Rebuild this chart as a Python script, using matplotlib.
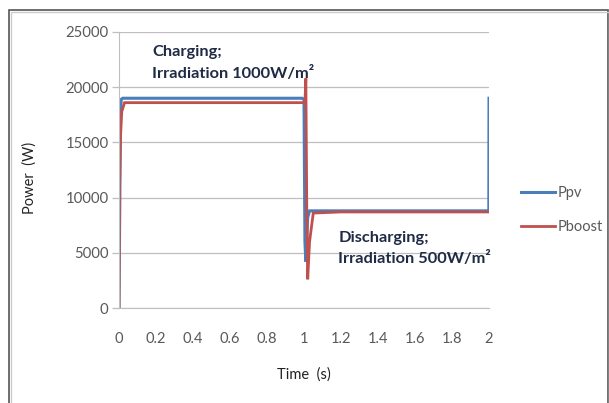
import numpy as np
import matplotlib.pyplot as plt
from matplotlib.patches import Rectangle
from matplotlib.lines import Line2D

# =========================
# Data
# =========================
t_pv = [0.0, 0.008, 0.012, 0.02, 0.5, 0.99, 1.0, 1.005, 1.01, 1.02, 1.03, 1.2, 1.6, 1.999, 2.0]
p_pv = [0, 17500, 18900, 19000, 19000, 19000, 18900, 6000, 4200, 8200, 8800, 8800, 8800, 8800, 19000]

t_boost = [0.0, 0.003, 0.008, 0.015, 0.03, 0.5, 0.995, 1.005, 1.01, 1.015, 1.02, 1.03, 1.05, 1.2, 1.6, 2.0]
p_boost = [0, 11000, 15500, 17800, 18600, 18600, 18600, 18600, 20800, 9000, 2600, 6000, 8600, 8700, 8700, 8700]

yticks = [0, 5000, 10000, 15000, 20000, 25000]
xticks = [0, 0.2, 0.4, 0.6, 0.8, 1, 1.2, 1.4, 1.6, 1.8, 2]
xtick_labels = ["0", "0.2", "0.4", "0.6", "0.8", "1", "1.2", "1.4", "1.6", "1.8", "2"]

BLUE = "#4a7ebb"
RED = "#c0504d"
TXT = "#595959"
NAVY = "#1f2a44"

plt.rcParams['font.family'] = ['Lato', 'DejaVu Sans']

fig = plt.figure(figsize=(6.09, 4.03), dpi=100)

# figure frame (bottom edge is cut off in the reference)
fig.patches.append(Rectangle((9 / 609, -0.05), 599 / 609, 1.05 - 10 / 403, transform=fig.transFigure,
                             fill=False, edgecolor="#555555", linewidth=1.2))
fig.patches.append(Rectangle((10.5 / 609, -0.05), 598 / 609, 1.05 - 12 / 403, transform=fig.transFigure,
                             fill=False, edgecolor="#cccccc", linewidth=1.0))

ax = fig.add_axes([119 / 609, 1 - 308 / 403, 370 / 609, 276 / 403])

ax.plot(t_pv, p_pv, color=BLUE, linewidth=2.2, solid_joinstyle="miter")
ax.plot(t_boost, p_boost, color=RED, linewidth=2.0, solid_joinstyle="miter")

ax.set_xlim(0, 2)
ax.set_ylim(0, 25000)
ax.set_yticks(yticks)
ax.set_xticks(xticks)
ax.set_xticklabels(xtick_labels)
ax.grid(axis="y", color="#bfbfbf", linewidth=0.9)
ax.set_axisbelow(True)
for side in ["top", "right"]:
    ax.spines[side].set_visible(False)
ax.spines["left"].set_color("#bfbfbf")
ax.spines["bottom"].set_color("#bfbfbf")
ax.tick_params(axis="y", length=5, width=0.9, color="#bfbfbf", labelsize=10.7, labelcolor=TXT, pad=2.5)
ax.tick_params(axis="x", length=0, labelsize=10.5, labelcolor=TXT, pad=17)

ax.set_xlabel("Time  (s)", fontsize=10.5, color="#222222", labelpad=16)
ax.set_ylabel("Power  (W)", fontsize=10.5, color="#222222")
ax.yaxis.set_label_coords(-0.222, 0.47)

ax.text(0.18, 23800, "Charging;\nIrradiation 1000W/m\u00b2", fontsize=11.8, fontweight="bold",
        color=NAVY, va="top", ha="left", linespacing=1.55)
ax.text(1.185, 7000, "Discharging;\nIrradiation 500W/m\u00b2", fontsize=11.8, fontweight="bold",
        color=NAVY, va="top", ha="left", linespacing=1.55)

handles = [Line2D([], [], color=BLUE, linewidth=2.2), Line2D([], [], color=RED, linewidth=2.0)]
fig.legend(handles, ["Ppv", "Pboost"], loc="center left", bbox_to_anchor=(508 / 609, 1 - 210 / 403),
           frameon=False, fontsize=10.5, handlelength=2.3, handletextpad=0.2, labelspacing=1.35,
           labelcolor=TXT)

fig.savefig("out.png", dpi=100)
